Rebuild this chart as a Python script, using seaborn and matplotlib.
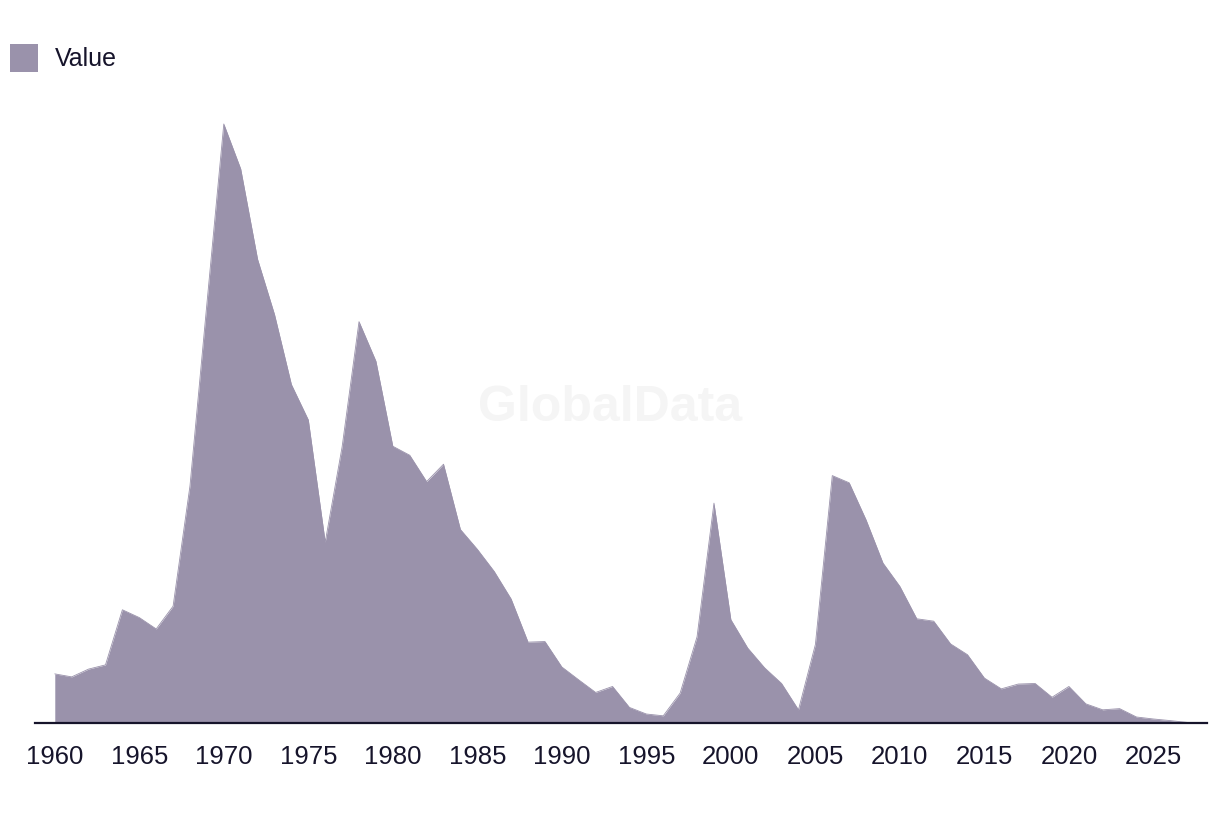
import matplotlib
matplotlib.use("Agg")
import matplotlib.pyplot as plt
from matplotlib.patches import Patch
import seaborn as sns
import pandas as pd
import numpy as np

years = list(range(1960, 2028))
values = [
    8.2, 7.7, 9.0, 9.7, 18.9, 17.6, 15.7, 19.5, 39.6, 70.0,
    100.0, 92.5, 77.4, 68.2, 56.5, 50.6, 30.2, 46.1, 67.0, 60.4,
    46.2, 44.7, 40.3, 43.2, 32.3, 29.0, 25.3, 20.7, 13.5, 13.6,
    9.35, 7.2, 5.1, 6.1, 2.6, 1.5, 1.2, 5.0, 14.4, 36.7,
    17.25, 12.5, 9.2, 6.6, 2.2, 13.1, 41.3, 40.1, 33.9, 26.7,
    22.8, 17.4, 17.0, 13.2, 11.4, 7.5, 5.7, 6.5, 6.6, 4.3,
    6.1, 3.2, 2.2, 2.4, 1.0, 0.67, 0.4, 0.1,
]
series_label = "Value"
tick_years = list(range(1960, 2030, 5))

df = pd.DataFrame({"year": years, "value": values})

fill_color = "#9a92ab"
ink = "#16142b"

sns.set_theme(style="white")
plt.rcParams["font.family"] = ["Liberation Sans", "DejaVu Sans"]

fig = plt.figure(figsize=(12.2, 8.14), dpi=100)
ax = fig.add_axes([35 / 1220, 91 / 814, (1207 - 35) / 1220, (723 - 100) / 814])

ax.fill_between(df["year"], 0, df["value"], color=fill_color, linewidth=0, zorder=2)
sns.lineplot(data=df, x="year", y="value", ax=ax, color=fill_color, linewidth=0.6, zorder=2)

ax.set_xlim(1958.83, 2028.17)
ax.set_ylim(0, 104.0)
ax.set_xticks(tick_years)
ax.set_xticklabels([str(t) for t in tick_years], fontsize=18.5, color=ink)
ax.tick_params(axis="x", length=0, pad=16)
ax.set_yticks([])
ax.set_xlabel("")
ax.set_ylabel("")
for side in ["top", "right", "left"]:
    ax.spines[side].set_visible(False)
ax.spines["bottom"].set_color(ink)
ax.spines["bottom"].set_linewidth(1.6)
ax.spines["bottom"].set_zorder(3)

fig.text(610 / 1220, 1 - 408 / 814, "GlobalData", ha="center", va="center",
         fontsize=36, fontweight="bold", color="#f5f5f5", zorder=0)

handle = Patch(facecolor=fill_color, edgecolor="none", label=series_label)
fig.legend(handles=[handle], loc="upper left",
           bbox_to_anchor=(10 / 1220, 1 - 44 / 814), bbox_transform=fig.transFigure,
           frameon=False, fontsize=18, borderpad=0, borderaxespad=0,
           handlelength=1.12, handleheight=1.32, handletextpad=0.68,
           labelcolor=ink)

fig.savefig("out.png", dpi=100)
